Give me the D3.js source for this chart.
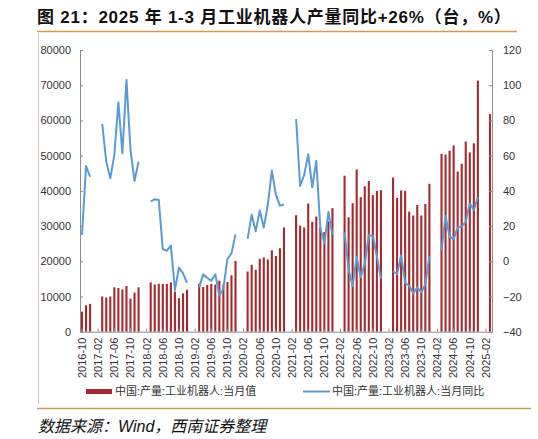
<!DOCTYPE html>
<html>
<head>
<meta charset="utf-8">
<script src="https://cdn.jsdelivr.net/npm/d3@7"></script>
<style>
  body { margin: 0; background: #fff; }
  svg { display: block; }
  text { font-family: "Liberation Sans", "Noto Sans CJK SC", sans-serif; }
</style>
</head>
<body>
<svg id="chart" width="538" height="439"></svg>
<script>
// monthly categories, 2016-10 .. 2025-03
const months = d3.timeMonth.range(new Date(2016, 9, 1), new Date(2025, 3, 1)).map(d3.timeFormat("%Y-%m"));

const tickLabels = ["2016-10","2017-02","2017-06","2017-10","2018-02","2018-06","2018-10",
  "2019-02","2019-06","2019-10","2020-02","2020-06","2020-10","2021-02","2021-06","2021-10",
  "2022-02","2022-06","2022-10","2023-02","2023-06","2023-10","2024-02","2024-06","2024-10","2025-02"];

// 中国:产量:工业机器人:当月值 (台), Jan/Feb not published
const output = [
  5700, 7500, 7900,
  null, null, 10000, 9700, 10000, 12600, 12400, 12000, 13000, 9400, 11100, 12600,
  null, null, 14000, 13400, 13600, 13600, 13600, 14000, 11400, 9500, 10900, 11900,
  null, null, 13600, 12700, 13300, 13600, 13400, 14500, 13400, 14100, 16000, 20100,
  null, null, 17100, 19000, 17600, 20700, 21100, 20500, 23100, 21500, 23700, 29600,
  null, null, 33100, 30100, 29600, 36400, 31200, 32700, 29600, 28300, 31300, 35100,
  null, null, 44300, 32500, 36500, 46100, 38200, 41300, 42800, 38800, 40000, 40200,
  null, null, 43800, 38000, 40100, 40000, 34100, 33000, 36000, 33000, 36300, 42000,
  null, null, 50500, 50300, 51400, 52900, 45500, 47700, 54000, 50900, 53500, 71300,
  null, null, 61800
];

// 中国:产量:工业机器人:当月同比 (%)
const yoy = [
  14.9, 54.1, 48,
  null, null, 78, 56.6, 47.1, 60.4, 90.3, 61.3, 103, 63.2, 45.6, 56.6,
  null, null, 34, 35.2, 34.8, 6.8, 6, 8.9, -16.3, -3.6, -6.9, -12.2,
  null, null, -14.8, -7.4, -9.5, -11, -7.4, -19.4, -15.4, 1.3, 4.5, 15.3,
  null, null, 12.7, 26.5, 17, 28.8, 19.1, 32.2, 51.5, 37.7, 31.6, 32.2,
  null, null, 80.8, 42.8, 49, 60.8, 42, 57.1, 18.7, 10.2, 28, 14.9,
  null, null, 16.4, -4.7, -14, 2.5, -9.1, -1.3, 14.9, 14.4, 2.8, -9.7,
  null, null, -5.7, -7.4, 3.4, -12.3, -13.9, -18.2, -14.8, -17.7, -13, 3,
  null, null, 6.3, 25.7, 14, 12.5, 19.3, 19.7, 22.5, 32.9, 29.1, 36.3,
  null, null, 26
];

const barColor = "#a52a2f";
const lineColor = "#5b9bd5";
const axisColor = "#8c8c8c";
const textColor = "#333";

const svg = d3.select("#chart");
const plot = {left: 80, right: 492, top: 50, bottom: 331.7};

const x = d3.scaleBand().domain(months).range([plot.left, plot.right]).paddingInner(0.48).paddingOuter(0.24);
const yL = d3.scaleLinear().domain([0, 80000]).range([plot.bottom, plot.top]);
const yR = d3.scaleLinear().domain([-40, 120]).range([plot.bottom, plot.top]);
const cx = m => x(m) + x.bandwidth() / 2;

// header / frame decorations
svg.append("text")
  .attr("x", 37).attr("y", 23)
  .attr("font-size", 17).attr("font-weight", "bold").attr("fill", "#111")
  .attr("letter-spacing", 0.75)
  .text("图 21：2025 年 1-3 月工业机器人产量同比+26%（台，%）");
svg.append("line").attr("x1", 37).attr("x2", 517).attr("y1", 31.5).attr("y2", 31.5)
  .attr("stroke", "#d29b4c").attr("stroke-width", 1.5);
svg.append("line").attr("x1", 38.5).attr("x2", 38.5).attr("y1", 33).attr("y2", 404)
  .attr("stroke", "#c8c8c8").attr("stroke-width", 1);
svg.append("line").attr("x1", 37).attr("x2", 531).attr("y1", 408.5).attr("y2", 408.5)
  .attr("stroke", "#d29b4c").attr("stroke-width", 1.5);
svg.append("text")
  .attr("x", 38).attr("y", 432)
  .attr("font-size", 16).attr("font-style", "italic").attr("fill", "#111")
  .text("数据来源：Wind，西南证券整理");

// bars
svg.append("g")
  .selectAll("rect")
  .data(months.map((m, i) => ({m, v: output[i]})).filter(d => d.v != null))
  .join("rect")
  .attr("x", d => x(d.m))
  .attr("width", x.bandwidth())
  .attr("y", d => yL(d.v))
  .attr("height", d => yL(0) - yL(d.v))
  .attr("fill", barColor);

// line
const line = d3.line()
  .defined(d => d.v != null)
  .x(d => cx(d.m))
  .y(d => yR(d.v));
svg.append("path")
  .datum(months.map((m, i) => ({m, v: yoy[i]})))
  .attr("d", line)
  .attr("fill", "none")
  .attr("stroke", lineColor)
  .attr("stroke-width", 2)
  .attr("stroke-linejoin", "round");

// axes
function styleAxis(g) {
  g.select(".domain").attr("stroke", axisColor);
  g.selectAll(".tick line").attr("stroke", axisColor);
  g.selectAll("text").attr("fill", textColor).attr("font-size", 11)
    .attr("font-family", "Liberation Sans, Arial, sans-serif");
}

svg.append("g")
  .attr("transform", `translate(${plot.left},0)`)
  .call(d3.axisLeft(yL).ticks(8).tickFormat(d3.format("d")).tickSizeInner(-3).tickSizeOuter(0).tickPadding(9))
  .call(styleAxis);

svg.append("g")
  .attr("transform", `translate(${plot.right},0)`)
  .call(d3.axisRight(yR).ticks(8).tickSizeInner(-3).tickSizeOuter(0).tickPadding(11))
  .call(styleAxis);

const xg = svg.append("g")
  .attr("transform", `translate(0,${plot.bottom})`)
  .call(d3.axisBottom(x).tickValues(tickLabels).tickSizeInner(-3).tickSizeOuter(0))
  .call(styleAxis);
xg.selectAll("text")
  .attr("transform", "rotate(-90)")
  .attr("x", -6).attr("y", 0).attr("dy", "0.35em")
  .style("text-anchor", "end");

// legend
const lg = svg.append("g").attr("font-size", 11).attr("fill", textColor);
lg.append("rect").attr("x", 86).attr("y", 389).attr("width", 26).attr("height", 5).attr("fill", barColor);
lg.append("text").attr("x", 115).attr("y", 391.5).attr("dy", "0.35em").attr("fill", textColor)
  .text("中国:产量:工业机器人:当月值");
lg.append("line").attr("x1", 303).attr("x2", 330).attr("y1", 391.5).attr("y2", 391.5)
  .attr("stroke", lineColor).attr("stroke-width", 2);
lg.append("text").attr("x", 332).attr("y", 391.5).attr("dy", "0.35em").attr("fill", textColor)
  .text("中国:产量:工业机器人:当月同比");
</script>
</body>
</html>
